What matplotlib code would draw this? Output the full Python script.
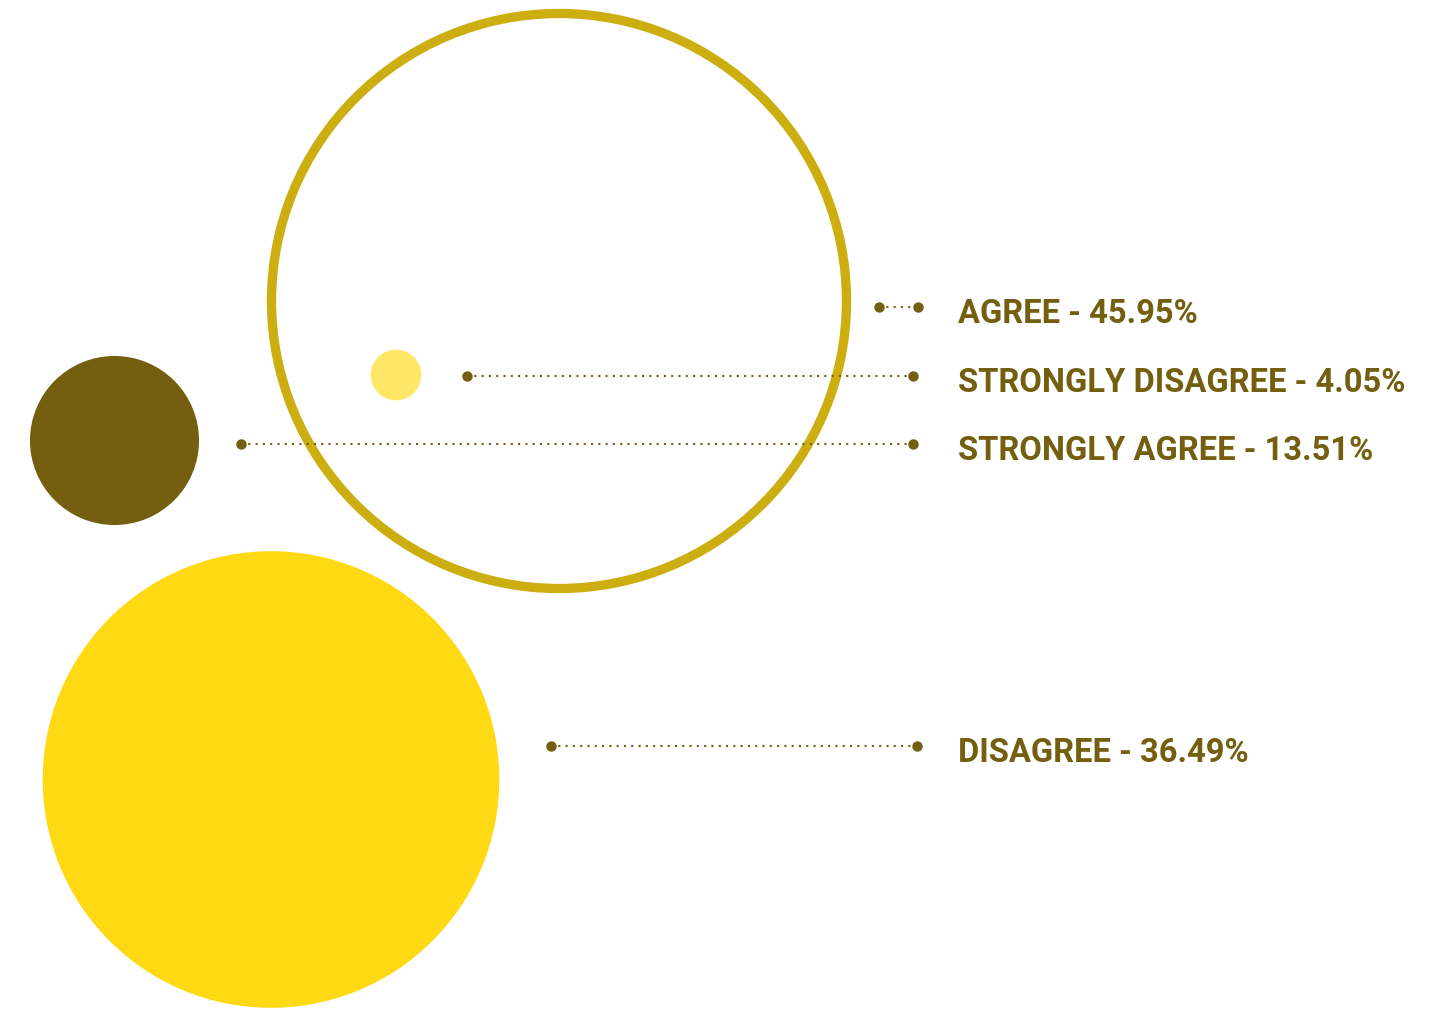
import matplotlib
matplotlib.use("Agg")
import matplotlib.pyplot as plt
from matplotlib.patches import Circle

# data
labels = ["AGREE", "STRONGLY DISAGREE", "STRONGLY AGREE", "DISAGREE"]
values = [45.95, 4.05, 13.51, 36.49]

# layout (pixel coords, y down)
centers = [(559, 301), (396, 375), (114.5, 440.5), (271, 779.5)]
line_y = [307, 376, 444, 746]
line_x0 = [879, 467, 241, 551]
line_x1 = [918, 913, 913, 917]
text_x = 958
px_per_pct = 6.257

fill_colors = [None, "#FFE666", "#735F0F", "#FFD913"]
ring_color = "#CCAE10"
ink = "#735F0F"

plt.rcParams['font.family'] = ['Roboto', 'DejaVu Sans']

W, H = 1449, 1010
fig = plt.figure(figsize=(W / 100, H / 100), dpi=100)
ax = fig.add_axes([0, 0, 1, 1])
ax.set_xlim(0, W)
ax.set_ylim(H, 0)
ax.set_aspect('equal')
ax.axis('off')

for i, lab in enumerate(labels):
    r = values[i] * px_per_pct
    if fill_colors[i] is None:
        ax.add_patch(Circle(centers[i], r, facecolor='none', edgecolor=ring_color, lw=6.7))
    else:
        ax.add_patch(Circle(centers[i], r, facecolor=fill_colors[i], edgecolor='none'))

    ax.plot([line_x0[i], line_x1[i]], [line_y[i], line_y[i]], color=ink, lw=1.5,
            linestyle=(0, (1, 2.5)), zorder=3)
    ax.plot([line_x0[i], line_x1[i]], [line_y[i], line_y[i]], 'o', color=ink, ms=7.5,
            mec='none', zorder=4)

    ax.text(text_x, line_y[i] + 7, f"{lab} - {values[i]:.2f}%", color=ink, fontsize=23.6,
            fontweight='bold', va='center', ha='left')

fig.savefig("out.png", dpi=100)
